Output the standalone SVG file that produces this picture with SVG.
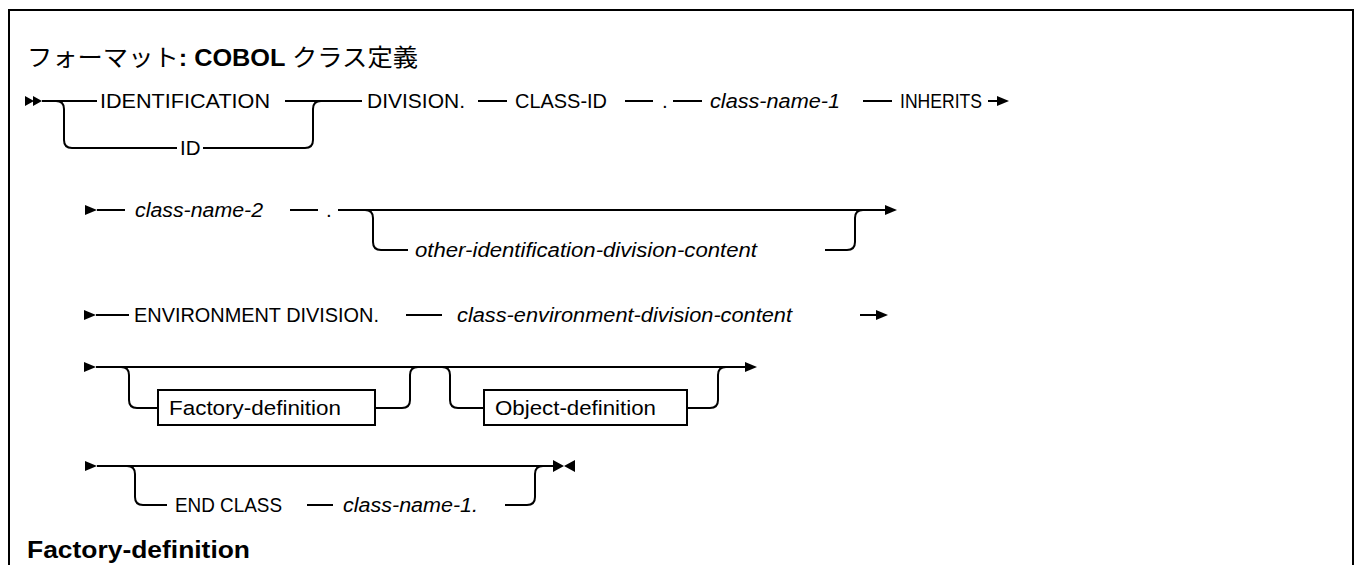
<svg xmlns="http://www.w3.org/2000/svg" width="1356" height="565" viewBox="0 0 1356 565">
<style>
.ln{stroke:#000;stroke-width:2;fill:none}
.ah{fill:#000;stroke:none}
.t{font-family:"Liberation Sans",Arial,sans-serif;font-size:20.5px;fill:#000}
.i{font-style:italic}
.box{fill:#fff;stroke:#000;stroke-width:2}
.h{font-family:"Liberation Sans","Noto Sans CJK JP",sans-serif;font-weight:bold;font-size:24px;fill:#000}
</style>
<rect width="1356" height="565" fill="#fff"/>
<path class="ln" d="M9,570 V10 H1353 V570"/>
<g id="title"><text class="h" x="27" y="66" textLength="391" lengthAdjust="spacingAndGlyphs"><tspan font-family="'Noto Sans CJK JP',sans-serif" font-weight="normal">フォーマット</tspan>: COBOL <tspan font-family="'Noto Sans CJK JP',sans-serif" font-weight="normal">クラス定義</tspan></text></g>
<g id="connectors">
<!-- row 1 -->
<path class="ah" d="M25,96 L34,101 L25,106 Z M33,96 L42,101 L33,106 Z"/>
<path class="ln" d="M42,101 H97 M285,101 H362 M478,101 H507 M625,101 H653 M673,101 H702 M863,101 H892 M988,101 H998"/>
<path class="ah" d="M997,96 L1009,101 L997,106 Z"/>
<path class="ln" d="M56,101 Q64,101 64,109 V140 Q64,148 72,148 H177 M203,148 H305 Q313,148 313,140 V109 Q313,101 321,101"/>
<!-- row 2 -->
<path class="ah" d="M85,205 L97,210 L85,215 Z"/>
<path class="ln" d="M97,210 H125 M290,210 H318 M338,210 H885"/>
<path class="ah" d="M885,205 L897,210 L885,215 Z"/>
<path class="ln" d="M365,210 Q373,210 373,218 V242 Q373,250 381,250 H408 M825,250 H847 Q855,250 855,242 V218 Q855,210 863,210"/>
<!-- row 3 -->
<path class="ah" d="M84,310 L96,315 L84,320 Z"/>
<path class="ln" d="M96,315 H129 M406,315 H442 M860,315 H876"/>
<path class="ah" d="M876,310 L888,315 L876,320 Z"/>
<!-- row 4 -->
<path class="ah" d="M84,362 L96,367 L84,372 Z"/>
<path class="ln" d="M96,367 H745"/>
<path class="ah" d="M745,362 L757,367 L745,372 Z"/>
<path class="ln" d="M121,367 Q129,367 129,375 V400 Q129,408 137,408 H158 M375,408 H402 Q410,408 410,400 V375 Q410,367 418,367"/>
<path class="ln" d="M442,367 Q450,367 450,375 V400 Q450,408 458,408 H484 M687,408 H710 Q718,408 718,400 V375 Q718,367 726,367"/>
<!-- row 5 -->
<path class="ah" d="M85,461 L97,466 L85,471 Z"/>
<path class="ln" d="M97,466 H553"/>
<path class="ah" d="M553,460 L564,466 L553,472 Z M575,460 L564,466 L575,472 Z"/>
<path class="ln" d="M127,466 Q135,466 135,474 V497 Q135,505 143,505 H167 M307,505 H333 M505,505 H527 Q535,505 535,497 V474 Q535,466 543,466"/>
</g>
<g id="n-identification"><text class="t" x="100" y="108" textLength="170" lengthAdjust="spacingAndGlyphs">IDENTIFICATION</text></g>
<g id="n-id"><text class="t" x="180" y="155">ID</text></g>
<g id="n-division"><text class="t" x="367" y="108" textLength="98" lengthAdjust="spacingAndGlyphs">DIVISION.</text></g>
<g id="n-classid"><text class="t" x="515" y="108" textLength="92" lengthAdjust="spacingAndGlyphs">CLASS-ID</text></g>
<g id="n-dot1"><text class="t" x="662" y="108">.</text></g>
<g id="n-classname1"><text class="t i" x="710" y="108" textLength="130" lengthAdjust="spacingAndGlyphs">class-name-1</text></g>
<g id="n-inherits"><text class="t" x="900" y="108" textLength="82" lengthAdjust="spacingAndGlyphs">INHERITS</text></g>
<g id="n-classname2"><text class="t i" x="135" y="217" textLength="128" lengthAdjust="spacingAndGlyphs">class-name-2</text></g>
<g id="n-dot2"><text class="t" x="326" y="217">.</text></g>
<g id="n-otherid"><text class="t i" x="415" y="257" textLength="342" lengthAdjust="spacingAndGlyphs">other-identification-division-content</text></g>
<g id="n-envdiv"><text class="t" x="134" y="322" textLength="245" lengthAdjust="spacingAndGlyphs">ENVIRONMENT DIVISION.</text></g>
<g id="n-classenv"><text class="t i" x="457" y="322" textLength="335" lengthAdjust="spacingAndGlyphs">class-environment-division-content</text></g>
<g id="n-factory"><rect class="box" x="158" y="390" width="217" height="35"/><text class="t" x="169" y="415" textLength="172" lengthAdjust="spacingAndGlyphs">Factory-definition</text></g>
<g id="n-object"><rect class="box" x="484" y="390" width="203" height="35"/><text class="t" x="495" y="415" textLength="161" lengthAdjust="spacingAndGlyphs">Object-definition</text></g>
<g id="n-endclass"><text class="t" x="175" y="512" textLength="107" lengthAdjust="spacingAndGlyphs">END CLASS</text></g>
<g id="n-classname1b"><text class="t i" x="343" y="512" textLength="135" lengthAdjust="spacingAndGlyphs">class-name-1.</text></g>
<g id="heading"><text class="h" x="27" y="558" textLength="223" lengthAdjust="spacingAndGlyphs">Factory-definition</text></g>
</svg>
